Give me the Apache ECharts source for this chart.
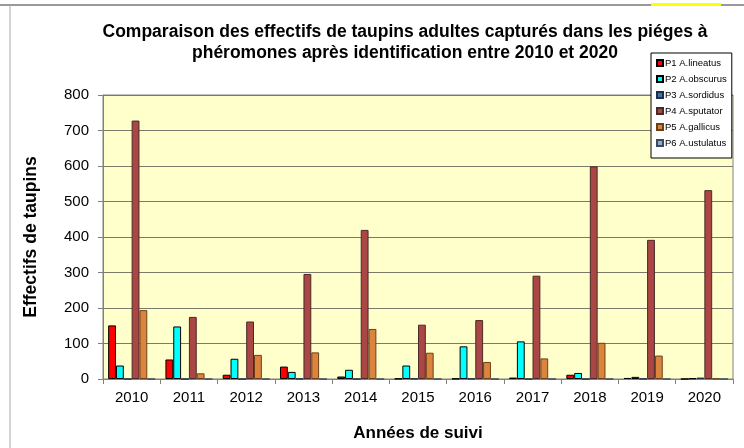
<!DOCTYPE html>
<html>
<head>
<meta charset="utf-8">
<script src="https://cdn.jsdelivr.net/npm/echarts@6/dist/echarts.min.js"></script>
<style>
  html, body { margin: 0; padding: 0; background: #fff; }
  #chart { width: 744px; height: 448px; }
</style>
</head>
<body>
<div id="chart"></div>
<script>
// années de suivi
const years = ['2010', '2011', '2012', '2013', '2014', '2015', '2016', '2017', '2018', '2019', '2020'];

// effectifs par piège
const p1Lineatus = [151, 55, 12, 35, 7, 1, 1, 4, 12, 3, 0];
const p2Obscurus = [38, 148, 57, 20, 26, 38, 92, 106, 17, 6, 2];
const p3Sordidus = [0, 0, 0, 1, 0, 1, 1, 0, 0, 1, 4];
const p4Sputator = [728, 175, 162, 296, 420, 153, 166, 291, 599, 392, 532];
const p5Gallicus = [194, 16, 68, 75, 141, 74, 48, 58, 102, 66, 1];
const p6Ustulatus = [0, 0, 0, 0, 0, 0, 0, 0, 0, 0, 0];

const yTicks = [0, 100, 200, 300, 400, 500, 600, 700, 800];

const font = 'Liberation Sans, Arial, sans-serif';

// une série de barres
function makeBar(name, data, color, border) {
  return {
    name: name,
    type: 'bar',
    data: data,
    barGap: '0%',
    barCategoryGap: '18%',
    itemStyle: { color: color, borderColor: border, borderWidth: 1 }
  };
}

const chart = echarts.init(document.getElementById('chart'));

const option = {
  backgroundColor: '#fff',
  animation: false,
  title: {
    text: 'Comparaison des effectifs de taupins adultes capturés dans les piéges à\nphéromones après identification entre 2010 et 2020',
    left: 400,
    textAlign: 'center',
    top: 17,
    textStyle: { fontFamily: font, fontSize: 17.5, fontWeight: 'bold', color: '#000', lineHeight: 21 }
  },
  legend: {
    orient: 'vertical',
    left: 651,
    top: 53,
    padding: [5, 5, 10, 5],
    itemGap: 6,
    itemWidth: 6,
    itemHeight: 6,
    icon: 'rect',
    backgroundColor: '#fff',
    borderColor: '#000',
    borderWidth: 1,
    borderRadius: 0,
    textStyle: { fontFamily: font, fontSize: 9.5, color: '#000', lineHeight: 10, padding: [0, 0, 0, -3] }
  },
  grid: {
    left: 103,
    right: 11,
    top: 95,
    bottom: 69,
    show: true,
    backgroundColor: '#FFFFCC',
    borderColor: '#808080',
    borderWidth: 1
  },
  xAxis: {
    type: 'category',
    data: years,
    name: 'Années de suivi',
    nameLocation: 'middle',
    nameGap: 46,
    nameTextStyle: { fontFamily: font, fontSize: 17, fontWeight: 'bold', color: '#000' },
    axisLine: { lineStyle: { color: '#808080', width: 1 } },
    axisTick: { show: true, length: 5, lineStyle: { color: '#808080' } },
    axisLabel: { fontFamily: font, fontSize: 15, color: '#000', margin: 11 }
  },
  yAxis: {
    type: 'value',
    min: yTicks[0],
    max: yTicks[yTicks.length - 1],
    interval: 100,
    name: 'Effectifs de taupins',
    nameLocation: 'middle',
    nameGap: 63,
    nameTextStyle: { fontFamily: font, fontSize: 17.5, fontWeight: 'bold', color: '#000' },
    axisLine: { show: true, lineStyle: { color: '#808080', width: 1 } },
    axisTick: { show: true, length: 5, lineStyle: { color: '#808080' } },
    axisLabel: { fontFamily: font, fontSize: 15, color: '#000', margin: 14 },
    splitLine: { show: true, lineStyle: { color: '#7a7a6a', width: 1 } }
  },
  series: [
    makeBar('P1 A.lineatus', p1Lineatus, '#FF0000', '#000'),
    makeBar('P2 A.obscurus', p2Obscurus, '#00FFFF', '#000'),
    makeBar('P3 A.sordidus', p3Sordidus, '#4572A7', '#1f2f4a'),
    makeBar('P4 A.sputator', p4Sputator, '#AA4643', '#4a2a28'),
    makeBar('P5 A.gallicus', p5Gallicus, '#DB843D', '#6b4018'),
    makeBar('P6 A.ustulatus', p6Ustulatus, '#92A8CD', '#3d4a5e')
  ],
  // cadre de la feuille autour du graphique
  graphic: [
    { type: 'line', shape: { x1: 0, y1: 5, x2: 744, y2: 5 }, style: { stroke: '#999', lineWidth: 2 } },
    { type: 'line', shape: { x1: 10, y1: 5, x2: 10, y2: 448 }, style: { stroke: '#aaa', lineWidth: 1 } },
    { type: 'rect', shape: { x: 651, y: 3, width: 70, height: 3 }, style: { fill: '#FFFF00' } }
  ]
};

chart.setOption(option);
</script>
</body>
</html>
